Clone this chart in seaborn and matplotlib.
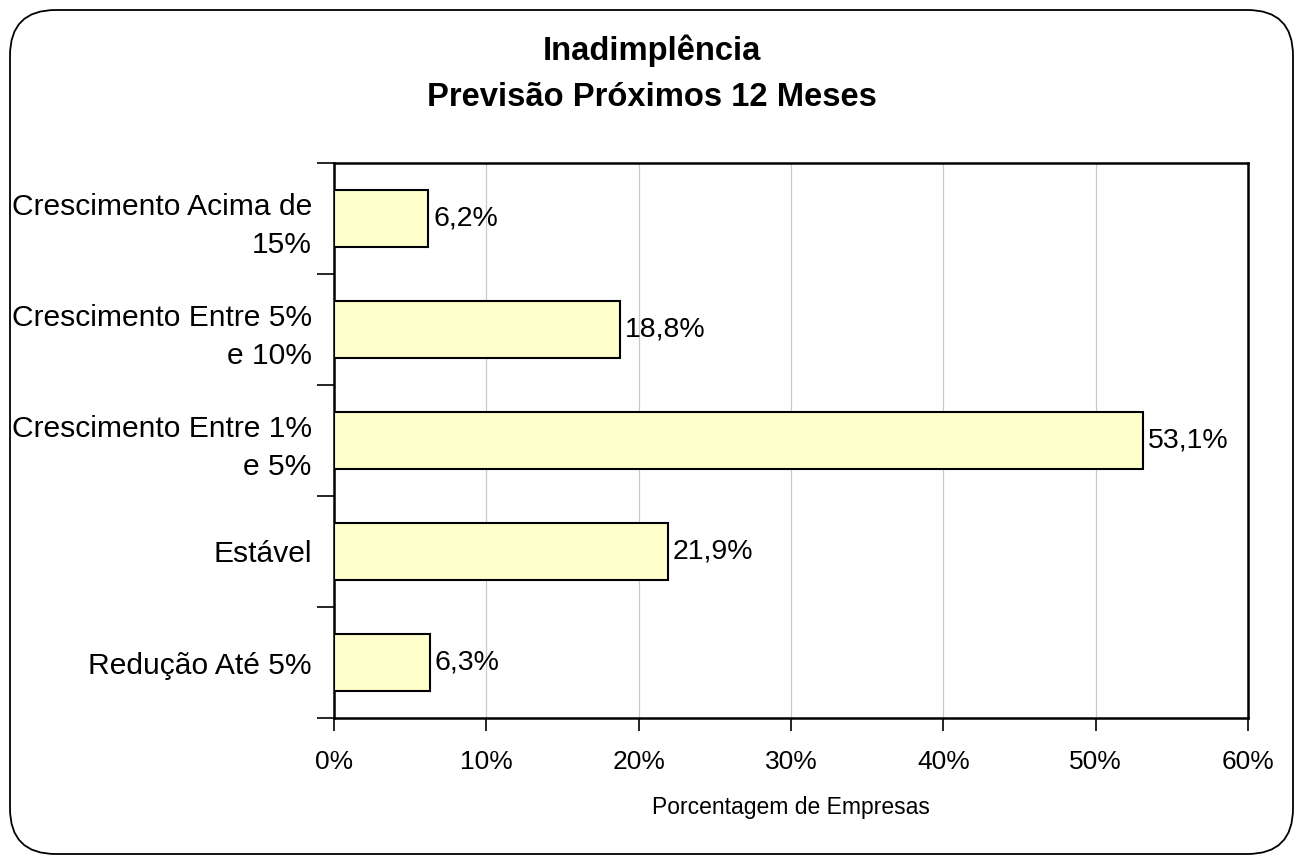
import matplotlib
matplotlib.use("Agg")
import matplotlib.pyplot as plt
import seaborn as sns
import pandas as pd
from matplotlib.patches import FancyBboxPatch
from matplotlib.ticker import FixedLocator

categories = ["Crescimento Acima de\n15%", "Crescimento Entre 5%\ne 10%",
              "Crescimento Entre 1%\ne 5%", "Estável", "Redução Até 5%"]
values = [6.2, 18.8, 53.1, 21.9, 6.3]
value_labels = ["6,2%", "18,8%", "53,1%", "21,9%", "6,3%"]
x_ticks = [0, 10, 20, 30, 40, 50, 60]
x_tick_labels = ["0%", "10%", "20%", "30%", "40%", "50%", "60%"]

sns.set_theme(style="white")
plt.rcParams["font.family"] = ["Liberation Sans", "DejaVu Sans"]
plt.rcParams["text.color"] = "black"
plt.rcParams["xtick.color"] = "black"
plt.rcParams["ytick.color"] = "black"
plt.rcParams["axes.labelcolor"] = "black"

df = pd.DataFrame({"cat": categories, "val": values})

fig = plt.figure(figsize=(13.03, 8.64), dpi=100)
W, H = 1303, 864
ax = fig.add_axes([334 / W, 1 - 718 / H, (1248 - 334) / W, (718 - 163) / H])

border = FancyBboxPatch((10 / W, 10 / H), (W - 20) / W, (H - 20) / H,
                        boxstyle="round,pad=0,rounding_size=0.035",
                        transform=fig.transFigure, facecolor="white",
                        edgecolor="black", linewidth=1.3, zorder=-1,
                        mutation_aspect=W / H)
fig.patches.append(border)

sns.barplot(data=df, x="val", y="cat", orient="h", ax=ax, color="#FFFFCC",
            saturation=1, edgecolor="black", linewidth=1.5, width=0.52, zorder=3)

ax.set_xlim(0, 60)
ax.set_ylim(4.5, -0.5)
ax.set_xticks(x_ticks)
ax.set_xticklabels(x_tick_labels, fontsize=19)
ax.xaxis.grid(True, color="#C8C8C8", linewidth=0.9, zorder=0)
ax.yaxis.grid(False)
ax.set_axisbelow(True)

ax.set_yticks(range(len(categories)))
ax.set_yticklabels(categories, fontsize=21.6, ha="right", linespacing=1.42)
ax.yaxis.set_minor_locator(FixedLocator([i - 0.5 for i in range(len(categories) + 1)]))
ax.tick_params(axis="y", which="minor", length=12, width=1.2, color="black", left=True)
ax.tick_params(axis="y", which="major", length=0, pad=16)
ax.tick_params(axis="x", which="major", length=9, width=1.2, color="black",
               bottom=True, pad=14)

for s in ax.spines.values():
    s.set_color("black")
    s.set_linewidth(1.8)
    s.set_visible(True)

for i, (v, t) in enumerate(zip(values, value_labels)):
    ax.text(v + 0.3, i, t, va="center", ha="left", fontsize=20.5, zorder=5)

ax.set_ylabel("")
ax.set_xlabel("Porcentagem de Empresas", fontsize=16.5, labelpad=16)

fig.text(0.5, 1 - 51 / H, "Inadimplência", ha="center", va="center",
         fontsize=23.6, fontweight="bold")
fig.text(0.5, 1 - 98 / H, "Previsão Próximos 12 Meses", ha="center", va="center",
         fontsize=23.6, fontweight="bold")

fig.savefig("out.png", dpi=100)
